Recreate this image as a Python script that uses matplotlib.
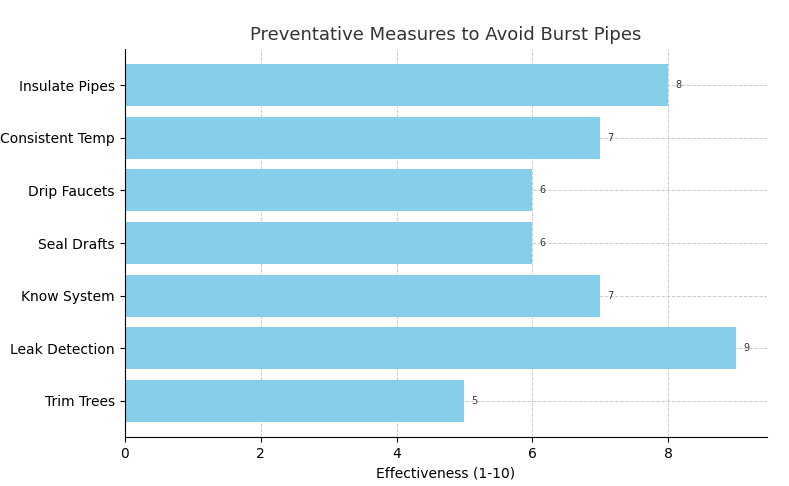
import matplotlib.pyplot as plt

measures = ["Insulate Pipes", "Consistent Temp", "Drip Faucets", "Seal Drafts",
            "Know System", "Leak Detection", "Trim Trees"]
scores = [8, 7, 6, 6, 7, 9, 5]

fig, ax = plt.subplots(figsize=(7.89, 4.86), dpi=100)
ypos = range(len(measures))[::-1]
bars = ax.barh(list(ypos), scores, color="skyblue", zorder=2)
ax.set_yticks(list(ypos))
ax.set_yticklabels(measures, fontsize=10)
for b, v in zip(bars, scores):
    ax.text(b.get_width() + 0.1, b.get_y() + b.get_height() / 2, str(v),
            va="center", fontsize=7, color="#333333")
ax.set_xlabel("Effectiveness (1-10)", fontsize=10)
ax.set_title("Preventative Measures to Avoid Burst Pipes", fontsize=13, color="#333333")
ax.grid(True, linestyle="--", color="#cccccc", linewidth=0.7, zorder=0)
ax.set_xlim(0, 9.45)
ax.set_ylim(-0.7, 6.7)
ax.spines["top"].set_visible(False)
ax.spines["right"].set_visible(False)
plt.subplots_adjust(left=0.158, right=0.972, top=0.9, bottom=0.1)
fig.savefig("out.png")
